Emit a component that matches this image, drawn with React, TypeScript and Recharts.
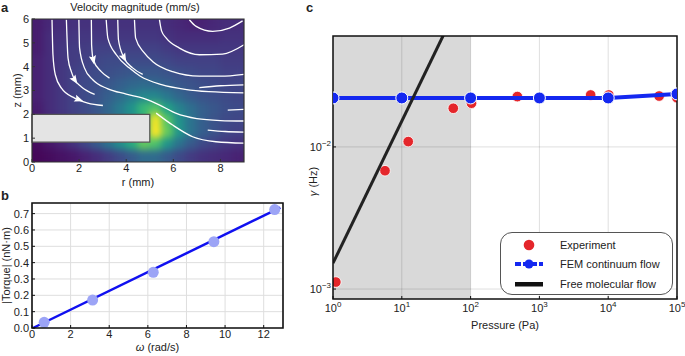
import React from "react";
import {
  ComposedChart,
  Line,
  Scatter,
  XAxis,
  YAxis,
  CartesianGrid,
  ReferenceArea,
  ReferenceLine,
  Legend,
} from "recharts";

const FONT = "'Liberation Sans', Arial, Helvetica, sans-serif";
const INK = "#222";

// ---- panel a: velocity magnitude (mm/s), cell centres every 0.5 mm
const heatR = [0.25, 0.75, 1.25, 1.75, 2.25, 2.75, 3.25, 3.75, 4.25, 4.75, 5.25, 5.75, 6.25, 6.75, 7.25, 7.75, 8.25, 8.75];
const heatZ = [5.75, 5.25, 4.75, 4.25, 3.75, 3.25, 2.75, 2.25, 1.75, 1.25, 0.75, 0.25];
const heatV = [
  [5, 7, 8, 9, 9, 9, 9, 9, 9, 9, 9, 8, 7, 6, 6, 7, 8, 8],
  [5, 8, 9, 10, 10, 10, 10, 10, 10, 10, 10, 9, 8, 8, 8, 8, 9, 9],
  [5, 8, 10, 11, 11, 12, 12, 12, 12, 12, 12, 11, 10, 10, 10, 10, 10, 10],
  [6, 8, 10, 11, 12, 13, 14, 14, 14, 14, 14, 13, 12, 12, 12, 12, 11, 11],
  [6, 8, 10, 12, 13, 14, 15, 16, 17, 17, 17, 16, 15, 14, 13, 13, 12, 12],
  [6, 8, 10, 12, 14, 15, 17, 19, 21, 22, 21, 19, 17, 16, 15, 14, 13, 13],
  [6, 8, 10, 12, 14, 16, 19, 22, 26, 29, 29, 25, 21, 18, 16, 15, 14, 13],
  [5, 8, 10, 12, 14, 17, 21, 26, 32, 42, 46, 36, 28, 23, 19, 17, 15, 14],
  [4, 7, 9, 11, 13, 16, 20, 25, 31, 40, 62, 46, 32, 24, 19, 16, 14, 13],
  [4, 6, 8, 10, 12, 15, 19, 24, 30, 40, 63, 48, 33, 24, 19, 16, 13, 12],
  [2, 4, 6, 9, 13, 18, 24, 31, 39, 48, 45, 33, 24, 18, 14, 12, 10, 9],
  [1, 2, 3, 4, 6, 8, 11, 14, 18, 22, 22, 18, 14, 11, 9, 8, 7, 6],
];
const V_MAX = 63;
const rTicks = [0, 2, 4, 6, 8];
const zTicks = [0, 1, 2, 3, 4, 5, 6];
const vTicks = [0, 20, 40, 60];

// streamlines [r, z]
const slA = [[0.85, 5.97], [0.89, 4.5], [0.99, 3.66], [1.25, 3.1], [1.81, 2.68], [2.37, 2.47], [3.01, 2.37]];
const slB = [[1.46, 5.97], [1.53, 4.36], [1.67, 3.79], [1.81, 3.45], [2.09, 3.16], [2.66, 2.84]];
const slC = [[1.99, 5.97], [2.02, 4.78], [2.23, 3.94], [2.58, 3.45], [3.2, 3.08], [4.0, 2.85], [4.8, 2.65], [5.4, 2.4], [6.1, 2.05], [7.0, 1.82], [8.0, 1.74], [9.0, 1.72]];
const slD = [[2.52, 5.97], [2.53, 4.92], [2.6, 4.29], [2.94, 3.79], [3.29, 3.52]];
const slE = [[3.15, 5.97], [3.22, 5.2], [3.58, 4.5], [4.14, 3.94], [4.6, 3.6], [5.5, 3.25], [6.5, 3.05], [7.5, 2.95], [9.0, 2.9]];
const slF = [[3.64, 5.97], [3.67, 5.13], [3.9, 4.38], [4.27, 3.95], [4.7, 3.68]];
const slG = [[4.35, 5.97], [4.4, 5.2], [4.75, 4.6], [5.13, 4.21], [5.97, 3.79], [7.11, 3.6], [8.0, 3.6], [9.0, 3.68]];
const slH = [[5.41, 5.97], [5.5, 5.5], [5.7, 5.2], [6.26, 4.78], [7.11, 4.5], [8.09, 4.53], [9.0, 4.92]];
const slEddy = [[6.68, 5.97], [6.97, 5.69], [7.67, 5.48], [8.38, 5.62], [8.94, 5.92]];
const slShort1 = [[7.1, 3.12], [8.0, 3.2], [9.0, 3.24]];
const slShort2 = [[8.31, 2.18], [9.0, 2.21]];
const slShort3 = [[7.46, 1.34], [8.2, 1.28], [9.0, 1.25]];
const slTip = [[5.27, 2.05], [5.97, 1.55], [6.82, 1.06], [7.81, 0.85], [9.0, 0.79]];
const streamlines = [slA, slB, slC, slD, slE, slF, slG, slH, slEddy, slShort1, slShort2, slShort3, slTip].map((s) =>
  s.map(([r, z]) => ({ r, z }))
);
// arrow heads: position and heading (deg, clockwise from +r)
const arrowR = [1.98, 1.81, 2.6, 3.9];
const arrowZ = [2.62, 3.45, 4.29, 4.38];
const arrowDeg = [20, 56, 78, 62];

// ---- panel b
const omega = [0.63, 3.14, 6.28, 9.42, 12.57];
const torque = [0.035, 0.171, 0.341, 0.528, 0.725];
const fitOmega = [0.05, 12.86];
const fitTorque = [0, 0.737];
const wTicks = [0, 2, 4, 6, 8, 10, 12];
const tTicks = [0, 0.1, 0.2, 0.3, 0.4, 0.5, 0.6, 0.7];

// ---- panel c
const pressureExp = [1.1, 5.7, 12.4, 56, 103, 478, 5560, 10200, 55000, 100000];
const gammaExp = [0.00112, 0.0068, 0.0109, 0.0187, 0.0203, 0.0226, 0.0232, 0.0232, 0.0228, 0.0222];
const pressureFem = [1, 10, 100, 1000, 10000, 100000];
const gammaFem = [0.0221, 0.0221, 0.0221, 0.0221, 0.0221, 0.0236];
const pressureFree = [1, 40];
const gammaFree = [0.00152, 0.0608];
const pTicks = [1, 10, 100, 1000, 10000, 100000];
const gTicks = [0.001, 0.01];
const G_MIN = 0.000851;
const G_MAX = 0.0603;

const VIRIDIS = ["#440154", "#482475", "#414487", "#355f8d", "#2a788e", "#21918c", "#22a884", "#44bf70", "#7ad151", "#bddf26", "#fde725"];

function hexRgb(h: string) {
  return [1, 3, 5].map((i) => parseInt(h.slice(i, i + 2), 16));
}
function viridis(t: number) {
  const s = Math.max(0, Math.min(1, t)) * 10;
  const i = Math.min(9, Math.floor(s));
  const f = s - i;
  const a = hexRgb(VIRIDIS[i]);
  const b = hexRgb(VIRIDIS[i + 1]);
  return `rgb(${a.map((v, k) => Math.round(v + (b[k] - v) * f)).join(",")})`;
}

const heatCells = heatZ.flatMap((z, i) => heatR.map((r, j) => ({ r, z, v: heatV[i][j] })));
const arrowHeads = arrowR.map((r, i) => ({ r, z: arrowZ[i], deg: arrowDeg[i] }));
const torquePts = omega.map((w, i) => ({ w, t: torque[i] }));
const fitLine = fitOmega.map((w, i) => ({ w, t: fitTorque[i] }));
const expPts = pressureExp.map((p, i) => ({ p, g: gammaExp[i] }));
const femPts = pressureFem.map((p, i) => ({ p, g: gammaFem[i] }));
const freePts = pressureFree.map((p, i) => ({ p, g: gammaFree[i] }));

// plot area of panel a, used for cell size and clipping
const A_LEFT = 32;
const A_TOP = 19;
const A_W = 212;
const A_H = 143;
const CELL_W = A_W / heatR.length + 0.8;
const CELL_H = A_H / heatZ.length + 0.8;

const HeatCell = (p: any) => (
  <rect x={p.cx - CELL_W / 2} y={p.cy - CELL_H / 2} width={CELL_W} height={CELL_H} fill={viridis(p.payload.v / V_MAX)} />
);

const ArrowHead = (p: any) => (
  <polygon
    points="5,0 -4,-3.6 -2.5,0 -4,3.6"
    fill="#fff"
    transform={`translate(${p.cx},${p.cy}) rotate(${p.payload.deg})`}
  />
);

const TorqueDot = (p: any) => <circle cx={p.cx} cy={p.cy} r={5.5} fill="#9ca4f6" />;
const RedDot = (p: any) => <circle cx={p.cx} cy={p.cy} r={5.3} fill="#e4262b" stroke="#fff" strokeWidth={0.8} />;

const tickStyle = { fontSize: 11, fill: INK };

const PowTick = (props: any) => {
  const { x, y, payload, side } = props;
  const e = Math.round(Math.log10(payload.value));
  const exp = e < 0 ? `\u2212${-e}` : `${e}`;
  return (
    <text
      x={x}
      y={side === "x" ? y + 10 : y + 4}
      textAnchor={side === "x" ? "middle" : "end"}
      fontSize={11}
      fill={INK}
    >
      10
      <tspan dy={-5} fontSize={8}>
        {exp}
      </tspan>
    </text>
  );
};

const bottomTitle = (content: React.ReactNode, fromBottom: number) => (props: any) => {
  const vb = props.viewBox;
  return (
    <text x={vb.x + vb.width / 2} y={vb.y + vb.height - fromBottom} textAnchor="middle" fontSize={11} fill={INK}>
      {content}
    </text>
  );
};

const sideTitle = (content: React.ReactNode, baseX: number, shiftY = 0) => (props: any) => {
  const vb = props.viewBox;
  const cy = vb.y + vb.height / 2 + shiftY;
  return (
    <text transform={`translate(${vb.x + baseX},${cy}) rotate(-90)`} textAnchor="middle" fontSize={11} fill={INK}>
      {content}
    </text>
  );
};

const LegendBox = () => {
  const row = (top: number, marker: React.ReactNode, label: string) => (
    <div style={{ position: "absolute", left: 0, top, height: 14, display: "flex", alignItems: "center" }}>
      <svg width={28} height={14} style={{ marginLeft: 14 }}>
        {marker}
      </svg>
      <span style={{ marginLeft: 17, fontSize: 11, color: INK, whiteSpace: "nowrap" }}>{label}</span>
    </div>
  );
  return (
    <div
      style={{
        position: "relative",
        width: 171,
        height: 61,
        border: "1px solid #555",
        borderRadius: 12,
        background: "#fff",
        fontFamily: FONT,
      }}
    >
      {row(5, <circle cx={14} cy={7} r={5.3} fill="#e4262b" />, "Experiment")}
      {row(24, (
        <g>
          <line x1={0} y1={7} x2={28} y2={7} stroke="#1428f0" strokeWidth={4} strokeDasharray="6 2" />
          <circle cx={14} cy={7} r={4.5} fill="#1428f0" />
        </g>
      ), "FEM continuum flow")}
      {row(44, <rect x={0} y={5} width={28} height={4.5} fill="#111" />, "Free molecular flow")}
    </div>
  );
};

const letter = { position: "absolute" as const, fontSize: 13, lineHeight: "13px", fontWeight: "bold" as const };

export default function App() {
  return (
    <div
      style={{
        position: "absolute",
        left: 0,
        top: 0,
        width: 685,
        height: 356,
        background: "#fff",
        fontFamily: FONT,
        color: INK,
        overflow: "hidden",
      }}
    >
      <style>{`.heatmap { filter: url(#heatBlur); clip-path: url(#heatClip); }`}</style>
      <svg width={0} height={0} style={{ position: "absolute" }}>
        <defs>
          <filter id="heatBlur" x="-5%" y="-5%" width="110%" height="110%" colorInterpolationFilters="sRGB">
            <feGaussianBlur stdDeviation={3.6} />
            <feComponentTransfer>
              <feFuncA type="linear" slope={30} intercept={0} />
            </feComponentTransfer>
          </filter>
          <clipPath id="heatClip" clipPathUnits="userSpaceOnUse">
            <rect x={A_LEFT} y={A_TOP} width={A_W} height={A_H} />
          </clipPath>
          <linearGradient id="viridisBar" x1="0" y1="1" x2="0" y2="0">
            {VIRIDIS.map((c, i) => (
              <stop key={i} offset={i / (VIRIDIS.length - 1)} stopColor={c} />
            ))}
          </linearGradient>
        </defs>
      </svg>

      {/* panel letters and title */}
      <div style={{ ...letter, left: 1, top: 1 }}>a</div>
      <div style={{ position: "absolute", left: 35, top: 1, width: 200, textAlign: "center", fontSize: 11 }}>
        Velocity magnitude (mm/s)
      </div>
      <div style={{ ...letter, left: 1, top: 189 }}>b</div>
      <div style={{ ...letter, left: 306, top: 1 }}>c</div>

      {/* a: velocity field */}
      <div style={{ position: "absolute", left: 0, top: 0 }}>
        <ComposedChart width={250} height={190} margin={{ top: A_TOP, right: 6, left: 0, bottom: 0 }}>
          <XAxis
            dataKey="r"
            type="number"
            domain={[0, 9]}
            ticks={rTicks}
            interval={0}
            height={28}
            axisLine={false}
            tickSize={-3}
            tickMargin={5}
            tickLine={{ stroke: "#333" }}
            tick={tickStyle}
            label={bottomTitle("r (mm)", 4)}
          />
          <YAxis
            dataKey="z"
            type="number"
            domain={[0, 6]}
            ticks={zTicks}
            interval={0}
            width={32}
            axisLine={false}
            tickSize={-3}
            tickMargin={6}
            tickLine={{ stroke: "#333" }}
            tick={tickStyle}
            label={sideTitle("z (mm)", 21)}
          />
          <Scatter className="heatmap" data={heatCells} shape={HeatCell} isAnimationActive={false} zIndex={50} />
          <ReferenceArea x1={0} x2={5} y1={0.83} y2={2} fill="#e4e4e4" fillOpacity={1} stroke="#555" strokeWidth={1.2} zIndex={150} />
          {streamlines.map((s, i) => (
            <Line
              key={i}
              data={s}
              dataKey="z"
              type="monotone"
              stroke="#fff"
              strokeWidth={1.3}
              dot={false}
              activeDot={false}
              isAnimationActive={false}
              zIndex={200}
            />
          ))}
          <Scatter data={arrowHeads} shape={ArrowHead} isAnimationActive={false} zIndex={250} />
          <ReferenceArea x1={0} x2={9} y1={0} y2={6} fill="none" stroke="#333" strokeWidth={1.2} zIndex={300} />
        </ComposedChart>
      </div>

      {/* a: colour bar */}
      <div style={{ position: "absolute", left: 258, top: 0 }}>
        <ComposedChart width={40} height={190} margin={{ top: 17, right: 0, left: 12, bottom: 15 }}>
          <XAxis type="number" dataKey="x" domain={[0, 1]} hide />
          <YAxis
            type="number"
            orientation="right"
            domain={[0, V_MAX]}
            ticks={vTicks}
            interval={0}
            width={15}
            axisLine={false}
            tickLine={false}
            tickMargin={3}
            tick={tickStyle}
          />
          <ReferenceArea x1={0} x2={1} y1={0} y2={V_MAX} fill="url(#viridisBar)" fillOpacity={1} stroke="none" />
        </ComposedChart>
      </div>

      {/* b: torque vs angular velocity */}
      <div style={{ position: "absolute", left: 0, top: 188 }}>
        <ComposedChart width={290} height={168} margin={{ top: 15, right: 7, left: 0, bottom: 0 }}>
          <CartesianGrid stroke="#dedede" />
          <XAxis
            dataKey="w"
            type="number"
            domain={[0, 13]}
            ticks={wTicks}
            interval={0}
            height={28}
            axisLine={false}
            tickSize={-3}
            tickMargin={5}
            tickLine={{ stroke: "#111" }}
            tick={tickStyle}
            label={bottomTitle(
              <>
                <tspan fontStyle="italic">ω</tspan> (rad/s)
              </>,
              5
            )}
          />
          <YAxis
            dataKey="t"
            type="number"
            domain={[0, 0.765]}
            ticks={tTicks}
            interval={0}
            tickFormatter={(v: number) => v.toFixed(1)}
            width={32}
            axisLine={false}
            tickSize={-3}
            tickMargin={6}
            tickLine={{ stroke: "#111" }}
            tick={tickStyle}
            label={sideTitle("|Torque| (nN·m)", 10)}
          />
          <Line data={fitLine} dataKey="t" stroke="#1010f0" strokeWidth={2.5} dot={false} activeDot={false} isAnimationActive={false} zIndex={40} />
          <Scatter data={torquePts} shape={TorqueDot} isAnimationActive={false} zIndex={50} />
          <ReferenceArea x1={0} x2={13} y1={0} y2={0.765} fill="none" stroke="#111" strokeWidth={1.6} zIndex={60} />
        </ComposedChart>
      </div>

      {/* c: damping rate vs pressure */}
      <div style={{ position: "absolute", left: 300, top: 0 }}>
        <ComposedChart width={385} height={356} margin={{ top: 36, right: 8, left: 0, bottom: 0 }}>
          <XAxis
            dataKey="p"
            type="number"
            scale="log"
            domain={[1, 100000]}
            ticks={pTicks}
            interval={0}
            allowDataOverflow
            height={57}
            axisLine={false}
            tickSize={-3}
            tickMargin={6}
            tickLine={{ stroke: "#111" }}
            tick={<PowTick side="x" />}
            label={bottomTitle("Pressure (Pa)", 27)}
          />
          <YAxis
            dataKey="g"
            type="number"
            scale="log"
            domain={[G_MIN, G_MAX]}
            ticks={gTicks}
            interval={0}
            allowDataOverflow
            width={33}
            axisLine={false}
            tickSize={-3}
            tickMargin={5}
            tickLine={{ stroke: "#111" }}
            tick={<PowTick side="y" />}
            label={sideTitle(
              <>
                <tspan fontStyle="italic">γ</tspan> (Hz)
              </>,
              17,
              14
            )}
          />
          <ReferenceArea x1={1} x2={100} y1={G_MIN} y2={G_MAX} fill="#d9d9d9" fillOpacity={1} stroke="none" zIndex={5} />
          {pTicks.map((p) => (
            <ReferenceLine key={`x${p}`} x={p} stroke="#000" strokeOpacity={0.13} strokeWidth={1} zIndex={10} />
          ))}
          {gTicks.map((g) => (
            <ReferenceLine key={`y${g}`} y={g} stroke="#000" strokeOpacity={0.13} strokeWidth={1} zIndex={10} />
          ))}
          <Scatter data={expPts} shape={RedDot} isAnimationActive={false} zIndex={30} />
          <Line
            data={femPts}
            dataKey="g"
            stroke="#1428f0"
            strokeWidth={4}
            dot={{ r: 6, fill: "#1428f0", stroke: "#fff", strokeWidth: 1 }}
            activeDot={false}
            isAnimationActive={false}
            zIndex={40}
          />
          <Line data={freePts} dataKey="g" stroke="#222" strokeWidth={3} dot={false} activeDot={false} isAnimationActive={false} zIndex={50} />
          <ReferenceArea x1={1} x2={100000} y1={G_MIN} y2={G_MAX} fill="none" stroke="#111" strokeWidth={1.5} zIndex={60} />
          <Legend
            layout="vertical"
            verticalAlign="middle"
            align="center"
            content={() => <LegendBox />}
            wrapperStyle={{ left: 200, top: 232, width: 173, height: 63 }}
          />
        </ComposedChart>
      </div>
    </div>
  );
}
